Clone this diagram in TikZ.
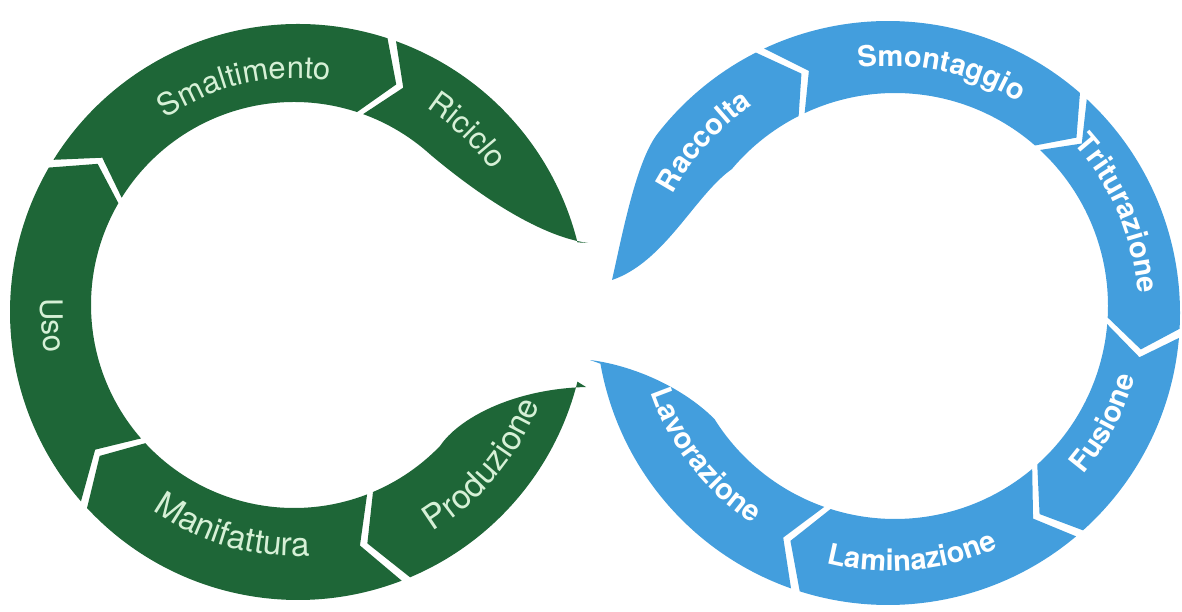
\documentclass[tikz,border=0pt]{standalone}
\usepackage{fontspec}
\usepackage{tikz}
\usetikzlibrary{calc,decorations.text}
\newfontfamily\ringfont{TeX Gyre Heros}
\definecolor{leafGreen}{RGB}{30,102,55}
\definecolor{leafBlue}{RGB}{67,158,221}
\definecolor{mintText}{RGB}{214,240,214}

% gap and tip of the chevrons (degrees)
\newcommand{\gp}{0.9}
\newcommand{\tp}{6}
% piece of ring: colour, outer centre, outer r, inner centre, inner r, from, to (clockwise)
\newcommand{\ringpiece}[7]{%
  \fill[#1] ($(#2)+(#6-\gp:#3)$) arc[start angle=#6-\gp, end angle=#7+\gp, radius=#3]
    -- ($(#2)!.5!(#4)+(#7+\gp-\tp:{(#3+#5)/2})$)
    -- ($(#4)+(#7+\gp:#5)$) arc[start angle=#7+\gp, end angle=#6-\gp, radius=#5]
    -- ($(#2)!.5!(#4)+(#6-\gp-\tp:{(#3+#5)/2})$) -- cycle;}
\newcommand{\greenfont}{\ringfont\fontsize{31}{31}\selectfont}
\newcommand{\greenfontbig}{\ringfont\fontsize{33.5}{33.5}\selectfont}
\newcommand{\bluefont}{\ringfont\bfseries\fontsize{29}{29}\selectfont}

\begin{document}
\begin{tikzpicture}[x=1pt, y=1pt,
    greenlabel/.style={decorate, decoration={text along path, text align=center, text color=mintText}},
    bluelabel/.style={decorate, decoration={text along path, text align=center, text color=white}}]
  \useasboundingbox (0,0) rectangle (1182,611);
  \coordinate (LO) at (298,299);
  \coordinate (LI) at (294,306);
  \coordinate (LT) at (296,303);
  \coordinate (RO) at (888,298);
  \coordinate (RI) at (895,305);
  \coordinate (RT) at (891,301);

  % left ring
  \ringpiece{leafGreen}{LO}{288}{LI}{203}{149}{71}
  \ringpiece{leafGreen}{LO}{288}{LI}{203}{222}{149}
  \ringpiece{leafGreen}{LO}{288}{LI}{203}{292}{222}
  \fill[leafGreen] ($(LO)+(71-\gp:288)$) arc[start angle=71-\gp, end angle=14, radius=288]
    -- (588,368) .. controls (530,376) and (458,433) .. ($(LI)+(48:203)$)
    arc[start angle=48, end angle=71-\gp, radius=203]
    -- ($(LO)!.5!(LI)+(71-\gp-\tp:245.5)$) -- cycle;
  \fill[leafGreen] (586,224) -- ($(LO)+(-14:288)$) arc[start angle=-14, end angle=-68+\gp, radius=288]
    -- ($(LO)!.5!(LI)+(-68+\gp-\tp:245.5)$) -- ($(LI)+(-68+\gp:203)$)
    arc[start angle=-68+\gp, end angle=-44, radius=203]
    .. controls (458,192) and (512,222) .. (586,224) -- cycle;

  % right ring
  \ringpiece{leafBlue}{RO}{292}{RI}{213}{116}{48}
  \ringpiece{leafBlue}{RO}{292}{RI}{213}{48}{-4}
  \ringpiece{leafBlue}{RO}{292}{RI}{213}{-4}{-49}
  \ringpiece{leafBlue}{RO}{292}{RI}{213}{-49}{-108.5}
  \fill[leafBlue] (612,331) .. controls (622,375) and (636,450) .. ($(RO)+(142:292)$)
    arc[start angle=142, end angle=116+\gp, radius=292]
    -- ($(RO)!.5!(RI)+(116+\gp-\tp:252.5)$) -- ($(RI)+(116+\gp:213)$)
    arc[start angle=116+\gp, end angle=140, radius=213]
    .. controls (695,416) and (665,349) .. (612,331) -- cycle;
  \fill[leafBlue] ($(RO)+(251.5-\gp:292)$) arc[start angle=251.5-\gp, end angle=190, radius=292]
    -- (590,251) .. controls (630,246) and (680,226) .. ($(RI)+(212:213)$)
    arc[start angle=212, end angle=251.5-\gp, radius=213]
    -- ($(RO)!.5!(RI)+(251.5-\gp-\tp:252.5)$) -- cycle;

  % labels
  \path[greenlabel, decoration={text={|\greenfont|Smaltimento}}]
    ($(LT)+(153:230)$) arc[start angle=153, end angle=53, radius=230];
  \path[greenlabel, decoration={text={|\greenfont|Riciclo}}]
    ($(LT)+(86:239)$) arc[start angle=86, end angle=6, radius=239];
  \path[greenlabel, decoration={text={|\greenfont|Uso}}]
    ($(LT)+(144:255)$) arc[start angle=144, end angle=224, radius=255];
  \path[greenlabel, decoration={text={|\greenfontbig|Manifattura}}]
    ($(LT)+(204:248)$) arc[start angle=204, end angle=304, radius=248];
  \path[greenlabel, decoration={text={|\greenfontbig|Produzione}}]
    ($(LT)+(270:262)$) arc[start angle=270, end angle=370, radius=262];

  \path[bluelabel, decoration={text={|\bluefont|Raccolta}}]
    ($(RT)+(188:247)$) arc[start angle=188, end angle=88, radius=247];
  \path[bluelabel, decoration={text={|\bluefont|Smontaggio}}]
    ($(RT)+(128:244)$) arc[start angle=128, end angle=28, radius=244];
  \path[bluelabel, decoration={text={|\bluefont|Triturazione}}]
    ($(RT)+(73:247)$) arc[start angle=73, end angle=-27, radius=247];
  \path[bluelabel, decoration={text={|\bluefont|Fusione}}]
    ($(RT)+(-78:253)$) arc[start angle=-78, end angle=22, radius=253];
  \path[bluelabel, decoration={text={|\bluefont|Laminazione}}]
    ($(RT)+(225:261)$) arc[start angle=225, end angle=325, radius=261];
  \path[bluelabel, decoration={text={|\bluefont|Lavorazione}}]
    ($(RT)+(168:254)$) arc[start angle=168, end angle=268, radius=254];
\end{tikzpicture}
\end{document}
